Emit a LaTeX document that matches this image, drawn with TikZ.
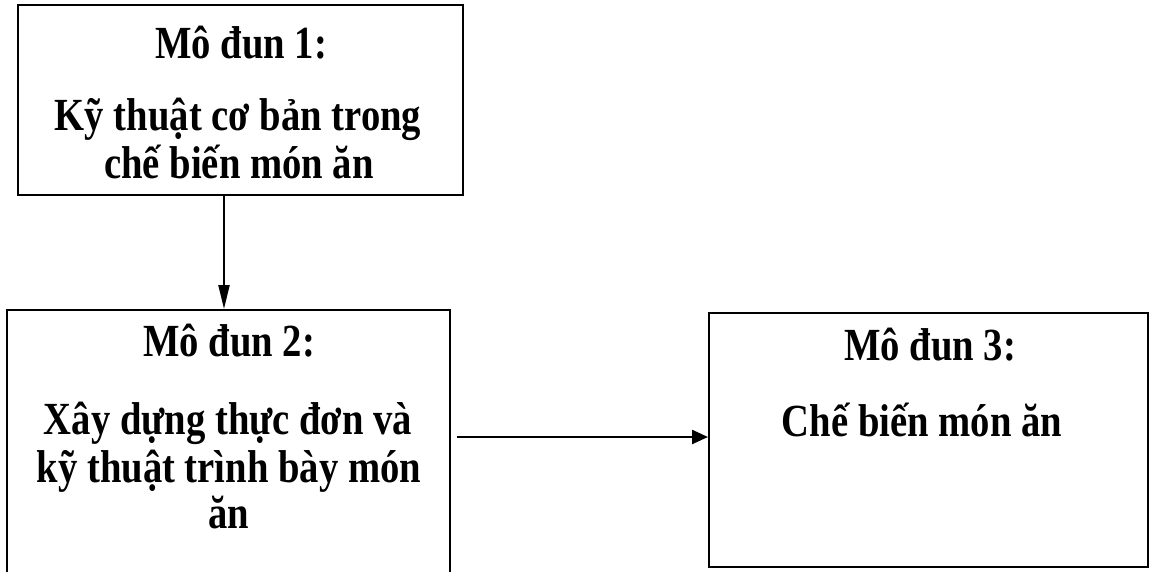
\documentclass[tikz,border=0pt]{standalone}
\usepackage{fontspec}
\setmainfont{Liberation Serif}[FakeStretch=0.84]
\usetikzlibrary{arrows.meta}
\begin{document}
\begin{tikzpicture}[x=1pt,y=-1pt,
  box/.style={draw=black, line width=2pt, inner sep=0pt},
  lbl/.style={inner sep=0pt, anchor=base, font=\fontsize{46}{50}\selectfont\bfseries},
  varr/.style={line width=2.2pt, -{Triangle[length=24pt,width=11pt]}},
  harr/.style={line width=2.4pt, -{Triangle[length=16pt,width=14pt]}}]
\fill[white] (0,0) rectangle (1154,571);
\useasboundingbox (0,0) rectangle (1154,571);
% boxes
\node[box, minimum width=445pt, minimum height=190pt] (box1) at (240.5,100) {};
\node[box, minimum width=443pt, minimum height=290pt] (box2) at (228.5,455) {};
\node[box, minimum width=439pt, minimum height=254pt] (box3) at (928.5,440) {};
% texts
\node[lbl] (t11) at (241,58) {Mô đun 1:};
\node[lbl] (t12) at (238,130) {Kỹ thuật cơ bản trong};
\node[lbl] (t13) at (239,178) {chế biến món ăn};
\node[lbl] (t21) at (229,356) {Mô đun 2:};
\node[lbl] (t22) at (228,434) {Xây dựng thực đơn và};
\node[lbl] (t23) at (229,482) {kỹ thuật trình bày món};
\node[lbl] (t24) at (229,528) {ăn};
\node[lbl] (t31) at (930,360) {Mô đun 3:};
\node[lbl] (t32) at (922,436) {Chế biến món ăn};
% connectors
\coordinate (ax) at (224,0);
\coordinate (s2) at (457,437);
\draw[varr] (box1.south -| ax) -- (box2.north -| ax);
\draw[harr] (s2) -- (s2 -| box3.west);
\end{tikzpicture}
\end{document}
